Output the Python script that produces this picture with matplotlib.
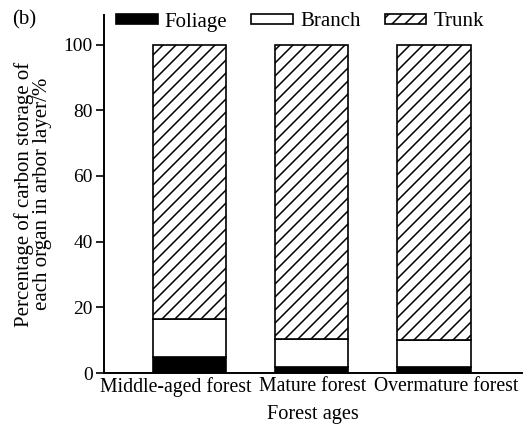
import numpy as np
import matplotlib.pyplot as plt
from matplotlib.patches import Patch

# the hatch spacing follows the dpi, so draw at 78 dpi;
# every size below is given for 100 dpi and rescaled by s
DPI = 78
s = 100.0 / DPI

plt.rcParams['font.family'] = ['Liberation Serif', 'DejaVu Serif']
plt.rcParams['hatch.linewidth'] = 1.1 * s

# data (percent of carbon storage)
ages = ["Middle-aged forest", "Mature forest", "Overmature forest"]
foliage = [5.0, 1.8, 1.8]
branch = [11.5, 8.6, 8.1]
trunk = [83.5, 89.6, 90.1]

fs = 15 * s
fig = plt.figure(figsize=(523 / DPI, 425 / DPI), dpi=DPI)
ax = fig.add_axes([104 / 523, 1 - 373 / 425, 418 / 523, 358 / 425])

x = np.arange(len(ages))
w = 0.6
fol = np.array(foliage)
br = np.array(branch)
tr = np.array(trunk)
lw = 1.2 * s

ax.bar(x, fol, w, color='black', edgecolor='black', linewidth=lw)
ax.bar(x, br, w, bottom=fol, color='white', edgecolor='black', linewidth=lw)
ax.bar(x, tr, w, bottom=fol + br, color='white', edgecolor='black',
       hatch='//', linewidth=lw)

ax.set_xlim(-0.7, 2.72)
ax.set_ylim(0, 109)
ax.set_yticks([0, 20, 40, 60, 80, 100])
# labels sit a bit off the bar centres in the original, ticks are hidden
ax.set_xticks(x + np.array([-0.112, 0.006, 0.10]))
ax.set_xticklabels(ages, fontsize=14.2 * s)
ax.tick_params(axis='x', length=0, pad=3 * s)
ax.tick_params(axis='y', direction='out', length=6 * s, width=1.2 * s,
               labelsize=14 * s, pad=2 * s)
ax.spines['top'].set_visible(False)
ax.spines['right'].set_visible(False)
ax.spines['left'].set_linewidth(1.4 * s)
ax.spines['bottom'].set_linewidth(1.4 * s)

ax.set_xlabel("Forest ages", fontsize=14.6 * s, labelpad=6 * s)
ax.set_ylabel("Percentage of carbon storage of\neach organ in arbor layer/%",
              fontsize=fs, linespacing=0.92)
ax.yaxis.set_label_coords(-0.125, 0.5)

handles = [Patch(facecolor='black', edgecolor='black', linewidth=lw),
           Patch(facecolor='white', edgecolor='black', linewidth=lw),
           Patch(facecolor='white', edgecolor='black', hatch='//', linewidth=lw)]
fig.legend(handles, ["Foliage", "Branch", "Trunk"], ncol=3, frameon=False,
           loc='center', bbox_to_anchor=(300 / 523, 1 - 22 / 425), fontsize=fs,
           handlelength=2.0, handleheight=0.4, columnspacing=1.15,
           handletextpad=0.34, borderaxespad=0, borderpad=0)

fig.text(12 / 523, 1 - 20 / 425, "(b)", fontsize=fs, va='center')

fig.savefig("out.png", dpi=DPI)
